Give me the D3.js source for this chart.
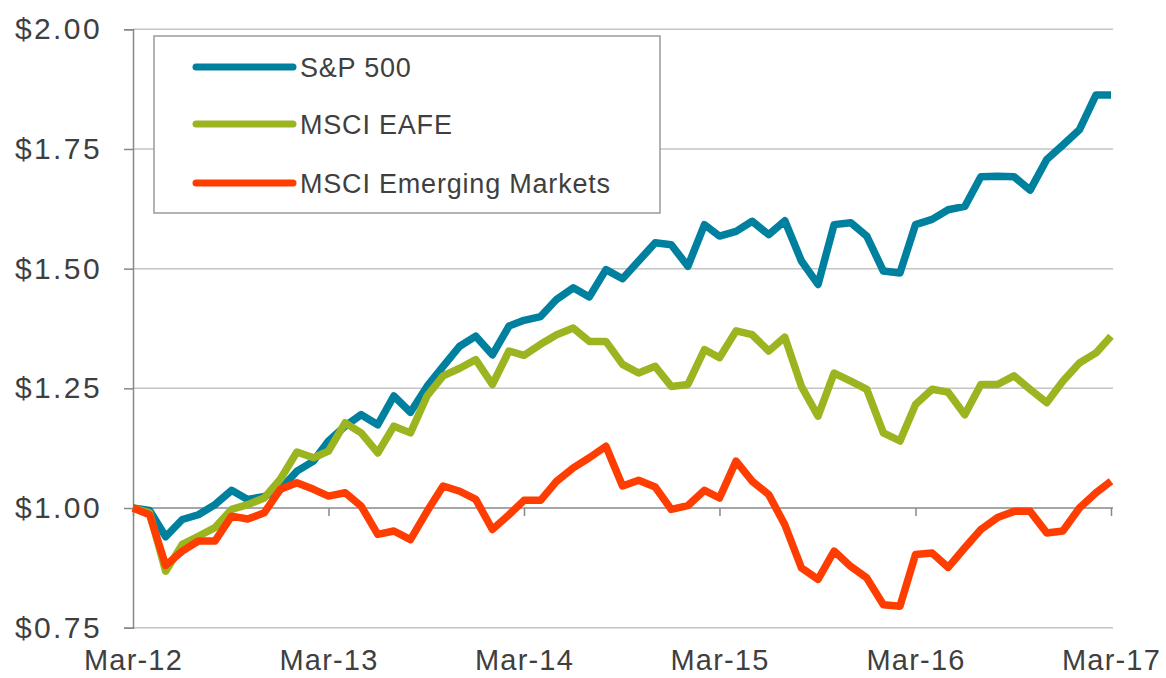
<!DOCTYPE html>
<html>
<head>
<meta charset="utf-8">
<script src="https://cdn.jsdelivr.net/npm/d3@7"></script>
<style>
  html, body { margin: 0; padding: 0; background: #fff; }
  svg { display: block; }
  text { font-family: "Liberation Sans", Arial, sans-serif; fill: #3f3f3f; }
</style>
</head>
<body>
<svg id="chart" width="1166" height="678"></svg>
<script>
// ---- data (monthly, growth of $1, Mar-2012 .. Mar-2017) ----
const startMonth = "2012-03";
const seriesNames = ["S&P 500", "MSCI EAFE", "MSCI Emerging Markets"];
const sp500 = [1.000, 0.995, 0.940, 0.976, 0.986, 1.007, 1.037, 1.018, 1.024, 1.039, 1.077,
  1.098, 1.140, 1.171, 1.195, 1.174, 1.234, 1.200, 1.254, 1.296, 1.338,
  1.359, 1.320, 1.380, 1.392, 1.400, 1.436, 1.460, 1.441, 1.498, 1.479,
  1.516, 1.554, 1.550, 1.505, 1.592, 1.568, 1.578, 1.599, 1.571, 1.600,
  1.516, 1.467, 1.592, 1.596, 1.568, 1.495, 1.491, 1.592, 1.603, 1.623,
  1.630, 1.692, 1.693, 1.692, 1.664, 1.728, 1.758, 1.790, 1.863, 1.863];
const eafe = [1.000, 0.990, 0.868, 0.924, 0.941, 0.959, 0.997, 1.007, 1.021, 1.060, 1.117,
  1.105, 1.119, 1.178, 1.157, 1.115, 1.171, 1.157, 1.234, 1.276, 1.292,
  1.310, 1.258, 1.328, 1.319, 1.342, 1.362, 1.376, 1.348, 1.348, 1.300,
  1.282, 1.296, 1.254, 1.258, 1.331, 1.314, 1.370, 1.362, 1.328, 1.357,
  1.254, 1.192, 1.282, 1.265, 1.248, 1.157, 1.140, 1.216, 1.248, 1.242,
  1.195, 1.258, 1.258, 1.276, 1.248, 1.220, 1.265, 1.303, 1.324, 1.359];
const emerging = [1.000, 0.986, 0.880, 0.910, 0.931, 0.931, 0.983, 0.977, 0.990, 1.039, 1.053,
  1.039, 1.025, 1.032, 1.004, 0.945, 0.952, 0.934, 0.993, 1.046, 1.035,
  1.018, 0.955, 0.986, 1.016, 1.016, 1.056, 1.084, 1.105, 1.129, 1.046,
  1.058, 1.044, 0.997, 1.005, 1.037, 1.021, 1.098, 1.056, 1.028, 0.965,
  0.875, 0.851, 0.910, 0.878, 0.854, 0.798, 0.795, 0.903, 0.906, 0.876,
  0.917, 0.955, 0.980, 0.993, 0.993, 0.948, 0.952, 1.000, 1.032, 1.056];
const yTicks = [0.75, 1.00, 1.25, 1.50, 1.75, 2.00];
const xTickLabels = ["Mar-12", "Mar-13", "Mar-14", "Mar-15", "Mar-16", "Mar-17"];
const colors = ["#00809f", "#9bb520", "#ff3d00"];

// ---- layout ----
const svg = d3.select("#chart");
const plotLeft = 133, plotRight = 1111, plotTop = 29.3, plotBottom = 627.7;

const parse = d3.timeParse("%Y-%m");
const t0 = parse(startMonth);
const dates = sp500.map((_, i) => d3.timeMonth.offset(t0, i));

const x = d3.scaleTime().domain([dates[0], dates[dates.length - 1]]).range([plotLeft, plotRight]);
const y = d3.scaleLinear().domain([0.75, 2.0]).range([plotBottom, plotTop]);

// gridlines
svg.append("g").selectAll("line")
  .data(yTicks.filter(v => v !== 1.0))
  .join("line")
  .attr("x1", plotLeft).attr("x2", plotRight + 2)
  .attr("y1", d => y(d)).attr("y2", d => y(d))
  .attr("stroke", "#c4c4c4").attr("stroke-width", 1.5);

// y axis
const yAxis = d3.axisLeft(y).tickValues(yTicks).tickSize(9).tickPadding(24)
  .tickFormat(d => "$" + d3.format(".2f")(d));
const gy = svg.append("g").attr("transform", `translate(${plotLeft},0)`).call(yAxis);
gy.select(".domain").attr("stroke", "#888").attr("stroke-width", 1.5);
gy.selectAll(".tick line").attr("stroke", "#888").attr("stroke-width", 1.5);
gy.selectAll(".tick text").attr("font-size", 30).attr("fill", "#3f3f3f")
  .attr("letter-spacing", 2.4).attr("dx", 2)
  .style("font-family", '"Liberation Sans", Arial, sans-serif');

// x axis at $1.00
const yearTicks = xTickLabels.map((_, i) => d3.timeYear.offset(t0, i));
const xAxis = d3.axisBottom(x).tickValues(yearTicks).tickSize(8)
  .tickFormat((d, i) => xTickLabels[i]);
const gx = svg.append("g").attr("transform", `translate(0,${y(1.0)})`).call(xAxis);
gx.select(".domain").attr("stroke", "#888").attr("stroke-width", 1.5)
  .attr("d", `M${plotLeft},0H${plotRight + 2}`);
gx.selectAll(".tick line").attr("stroke", "#888").attr("stroke-width", 1.5);
gx.selectAll(".tick text").attr("font-size", 29).attr("fill", "#3f3f3f")
  .attr("letter-spacing", 1.2)
  .attr("y", y(0.75) - y(1.0) + 42).attr("dy", 0)
  .style("font-family", '"Liberation Sans", Arial, sans-serif');

// lines
const line = d3.line().x((d, i) => x(dates[i])).y(d => y(d));
const allSeries = [sp500, eafe, emerging];
svg.append("g").selectAll("path")
  .data(allSeries)
  .join("path")
  .attr("d", d => line(d))
  .attr("fill", "none")
  .attr("stroke", (d, i) => colors[i])
  .attr("stroke-width", 7.5)
  .attr("stroke-linejoin", "round");

// legend
const lg = svg.append("g");
lg.append("rect").attr("x", 154).attr("y", 36).attr("width", 506).attr("height", 177)
  .attr("fill", "#fff").attr("stroke", "#9a9a9a").attr("stroke-width", 1.5);
const rowY = [67, 124, 183];
seriesNames.forEach((name, i) => {
  lg.append("line").attr("x1", 196).attr("x2", 293)
    .attr("y1", rowY[i]).attr("y2", rowY[i])
    .attr("stroke", colors[i]).attr("stroke-width", 7).attr("stroke-linecap", "round");
  lg.append("text").attr("x", 300).attr("y", rowY[i]).attr("dy", "0.36em")
    .attr("font-size", 27).attr("letter-spacing", 0.8).text(name);
});
</script>
</body>
</html>
